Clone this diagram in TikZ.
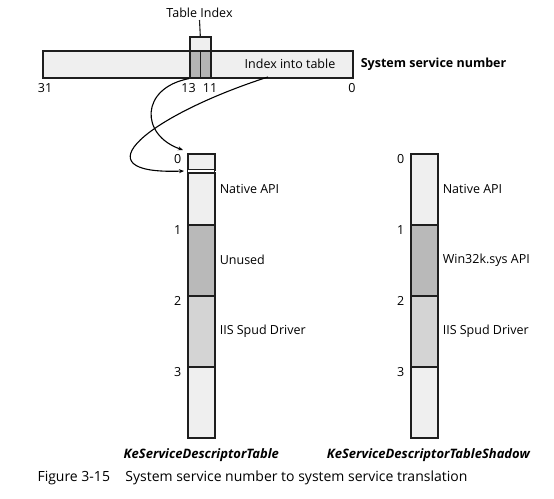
\documentclass[tikz,border=0pt]{standalone}
\usepackage{fontspec}
\setmainfont{Open Sans}
\usetikzlibrary{positioning, arrows.meta, calc}

\definecolor{paleGrey}{HTML}{EFEFEF}
\definecolor{bitGrey}{HTML}{B4B4B4}
\definecolor{darkGrey}{HTML}{B9B9B9}
\definecolor{midGrey}{HTML}{D4D4D4}
\definecolor{edgeGrey}{HTML}{1E1E1E}

\begin{document}
\begin{tikzpicture}[
    x=1pt, y=-1pt,
    field/.style={draw=edgeGrey, line width=1.6pt, inner sep=0pt, anchor=north west, minimum width=27},
    labelstyle/.style={font=\fontsize{12.5}{14}\selectfont, inner sep=2pt},
    numstyle/.style={font=\fontsize{12.5}{14}\selectfont, inner sep=1.5pt},
    link/.style={line width=1.1pt, -{Stealth[length=5pt, width=4pt]}}
]
\useasboundingbox (0,0) rectangle (554,498);

% System service number bar
\node (ssn) [field, fill=paleGrey, minimum width=310, minimum height=27] at (42,50) {};
\node (bit13) [field, fill=bitGrey, minimum width=10.5, minimum height=27] at (189,50) {};
\node (bit11) [field, fill=bitGrey, minimum width=10.5, minimum height=27] at (199.5,50) {};
\node (idx_box) [field, fill=paleGrey, minimum width=21, minimum height=14] at (189,36) {};
\node (ssn_label) [labelstyle, font=\fontsize{12.5}{14}\selectfont\bfseries, right=5pt of ssn] {System service number};
\node (idx_text) [labelstyle] at (290,63.5) {Index into table};

% Table Index label
\node (tbl_idx) [labelstyle] at (199.5,13) {Table Index};
\draw[line width=1.1pt, edgeGrey] (tbl_idx.south) -- (idx_box.north);

% Bit numbers
\node (b31) [numstyle] at (45,88) {31};
\node (b13) [numstyle] at (188.5,88) {13};
\node (b11) [numstyle] at (210,88) {11};
\node (b0) [numstyle] at (352,88) {0};

% KeServiceDescriptorTable
\node (kst_top) [field, fill=paleGrey, minimum height=16] at (187,153) {};
\node (kst_gap) [field, fill=white, line width=1pt, minimum height=3] at (187,169) {};
\node (kst_native) [field, fill=paleGrey, minimum height=52] at (187,172) {};
\node (kst_unused) [field, fill=darkGrey, minimum height=71] at (187,224) {};
\node (kst_iis) [field, fill=midGrey, minimum height=71] at (187,295) {};
\node (kst_last) [field, fill=paleGrey, minimum height=71] at (187,366) {};

% KeServiceDescriptorTableShadow
\node (ksts_native) [field, fill=paleGrey, minimum height=71] at (410,153) {};
\node (ksts_win32k) [field, fill=darkGrey, minimum height=71] at (410,224) {};
\node (ksts_iis) [field, fill=midGrey, minimum height=71] at (410,295) {};
\node (ksts_last) [field, fill=paleGrey, minimum height=71] at (410,366) {};

% Row numbers
\node (kst_n0) [numstyle, left=4pt of kst_top.north west, anchor=north east] {0};
\node (kst_n1) [numstyle, left=4pt of kst_unused.north west, anchor=north east] {1};
\node (kst_n2) [numstyle, left=4pt of kst_iis.north west, anchor=north east] {2};
\node (kst_n3) [numstyle, left=4pt of kst_last.north west, anchor=north east] {3};
\node (ksts_n0) [numstyle, left=4pt of ksts_native.north west, anchor=north east] {0};
\node (ksts_n1) [numstyle, left=4pt of ksts_win32k.north west, anchor=north east] {1};
\node (ksts_n2) [numstyle, left=4pt of ksts_iis.north west, anchor=north east] {2};
\node (ksts_n3) [numstyle, left=4pt of ksts_last.north west, anchor=north east] {3};

% Row labels
\node (kst_native_lbl) [labelstyle, anchor=west] at ($(kst_native.east |- ksts_native.east)+(2pt,0)$) {Native API};
\node (kst_unused_lbl) [labelstyle, right=2pt of kst_unused] {Unused};
\node (kst_iis_lbl) [labelstyle, right=2pt of kst_iis] {IIS Spud Driver};
\node (ksts_native_lbl) [labelstyle, right=2pt of ksts_native] {Native API};
\node (ksts_win32k_lbl) [labelstyle, right=2pt of ksts_win32k] {Win32k.sys API};
\node (ksts_iis_lbl) [labelstyle, right=2pt of ksts_iis] {IIS Spud Driver};

% Table names
\node (kst_name) [labelstyle, font=\fontsize{13}{15}\selectfont\bfseries\itshape, below=8pt of kst_last.south] {KeServiceDescriptorTable};
\node (ksts_name) [labelstyle, font=\fontsize{13}{15}\selectfont\bfseries\itshape, below=8pt of ksts_last.south, xshift=4pt] {KeServiceDescriptorTableShadow};

% Arrows from the number to the table
\coordinate (idx_from) at (268,77);
\draw[link] (bit13.south west) .. controls (140,88) and (140,135) .. ([xshift=-4pt, yshift=3pt]kst_top.north west);
\draw[link] (idx_from) .. controls (150,115) and (75,175) .. ([xshift=-3pt]kst_gap.west);

% Caption
\node (caption) [font=\fontsize{14}{16}\selectfont, anchor=west] at (34,478) {Figure 3-15\hspace{1.1em}System service number to system service translation};

\end{tikzpicture}
\end{document}
